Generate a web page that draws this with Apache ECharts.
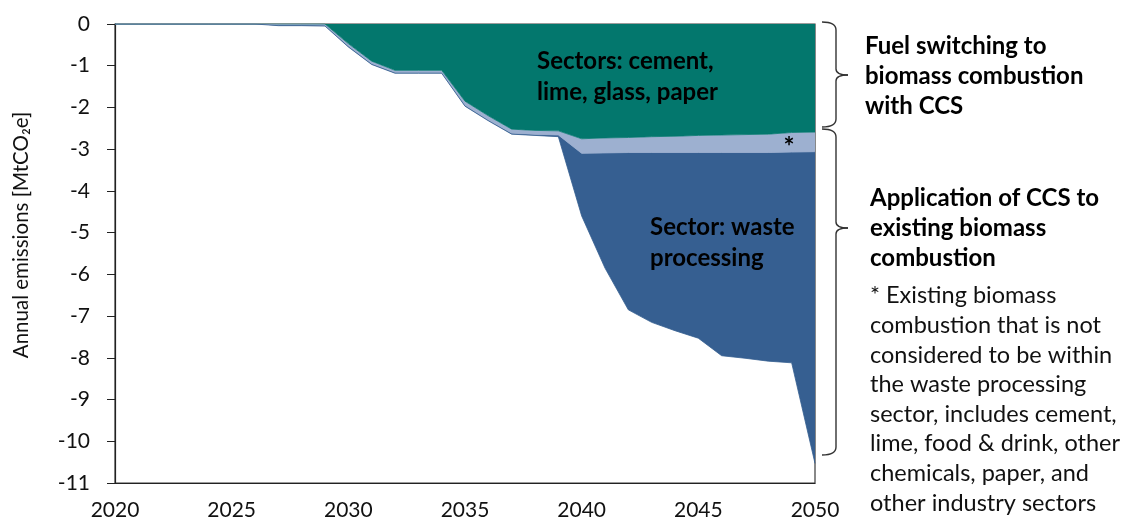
<!DOCTYPE html>
<html>
<head>
<meta charset="utf-8">
<script src="https://cdn.jsdelivr.net/npm/echarts@6/dist/echarts.min.js"></script>
<style>
html,body{margin:0;padding:0;background:#fff;}
#chart{width:1129px;height:527px;}
</style>
</head>
<body>
<div id="chart"></div>
<script>
// Data (MtCO2e, negative = removals)
const years = [2020,2021,2022,2023,2024,2025,2026,2027,2028,2029,2030,2031,2032,2033,2034,2035,2036,2037,2038,2039,2040,2041,2042,2043,2044,2045,2046,2047,2048,2049,2050];
// Fuel switching to biomass combustion with CCS (cement, lime, glass, paper)
const fuelSwitching = [0,0,0,0,0,0,0,0,0,0,-0.47,-0.89,-1.11,-1.11,-1.11,-1.85,-2.2,-2.52,-2.55,-2.56,-2.75,-2.73,-2.72,-2.7,-2.69,-2.67,-2.66,-2.65,-2.64,-2.6,-2.59];
// Existing biomass combustion outside waste processing (*)
const existingOther = [0,0,0,0,0,0,0,-0.02,-0.02,-0.03,-0.06,-0.06,-0.05,-0.05,-0.05,-0.1,-0.1,-0.1,-0.1,-0.1,-0.35,-0.36,-0.36,-0.38,-0.39,-0.41,-0.42,-0.43,-0.44,-0.47,-0.47];
// Waste processing sector
const wasteProcessing = [0,0,0,0,0,0,0,-0.02,-0.02,-0.02,-0.02,-0.02,-0.02,-0.02,-0.02,-0.02,-0.02,-0.02,-0.02,-0.04,-1.5,-2.76,-3.77,-4.07,-4.27,-4.45,-4.87,-4.93,-5.0,-5.05,-7.47];
const xTicks = [2020,2025,2030,2035,2040,2045,2050];
const yTicks = [0,-1,-2,-3,-4,-5,-6,-7,-8,-9,-10,-11];

const FONT = 'Lato, "Open Sans", sans-serif';

const braceStyle = {fill:'none', stroke:'#333', lineWidth:1.4};
function brace(top, mid, bot){
  const xe=822, xv=836, xp=848;
  const bz = (x1,y1,cx,cy,x2,y2) => ({type:'bezierCurve', z:100, shape:{x1:x1,y1:y1,cpx1:cx,cpy1:cy,x2:x2,y2:y2}, style:braceStyle, silent:true});
  const ln = (x1,y1,x2,y2) => ({type:'line', z:100, shape:{x1:x1,y1:y1,x2:x2,y2:y2}, style:braceStyle, silent:true});
  return [
    bz(xe,top, xv,top, xv,top+8),
    ln(xv,top+8, xv,mid-6),
    bz(xv,mid-6, xv,mid, xp,mid),
    bz(xp,mid, xv,mid, xv,mid+6),
    ln(xv,mid+6, xv,bot-8),
    bz(xv,bot-8, xv,bot, xe,bot)
  ];
}

const chart = echarts.init(document.getElementById('chart'), null, {renderer:'canvas'});
const mkSeries = (name, arr, color) => ({
  name, type:'line', stack:'total', data: arr, symbol:'none',
  lineStyle:{width:0.8, color: color}, areaStyle:{color: color, opacity:1},
  emphasis:{disabled:true}, silent:true
});
chart.setOption({
  animation:false,
  grid:{left:115, right:314, top:24, bottom:44, show:true, borderColor:'#3a3a3a', borderWidth:1.2, backgroundColor:'transparent'},
  xAxis:{
    type:'category', data: years.map(String), boundaryGap:false,
    axisLine:{show:true, onZero:false, lineStyle:{color:'#222', width:1.2}},
    axisTick:{show:false},
    splitLine:{show:false},
    axisLabel:{color:'#111', fontSize:21, fontFamily:FONT, margin:17, interval:0,
      formatter: v => xTicks.includes(Number(v)) ? v : ''}
  },
  yAxis:{
    type:'value', min:-11, max:0, interval:1,
    axisLine:{show:true, lineStyle:{color:'#222', width:1.2}},
    axisTick:{show:true, inside:false, length:8, lineStyle:{color:'#222'}},
    splitLine:{show:false},
    axisLabel:{color:'#111', fontSize:21, fontFamily:FONT, margin:25,
      formatter: v => yTicks.includes(v) ? String(v) : ''}
  },
  series:[
    mkSeries('Fuel switching', fuelSwitching, '#03776D'),
    mkSeries('Existing other', existingOther, '#9DB0D0'),
    mkSeries('Waste processing', wasteProcessing, '#365F91')
  ],
  graphic:[
    {type:'text', z:100, x:21, y:235, rotation:Math.PI/2, style:{text:'Annual emissions [MtCO₂e]', font:'20.5px '+FONT, fill:'#111', align:'center', verticalAlign:'middle'}},
    {type:'text', z:100, x:537, y:46, style:{text:'Sectors: cement,\nlime, glass, paper', font:'bold 24px '+FONT, fill:'#000', lineHeight:31, align:'left', verticalAlign:'top'}},
    {type:'text', z:100, x:650, y:212, style:{text:'Sector: waste\nprocessing', font:'bold 24px '+FONT, fill:'#000', lineHeight:31, align:'left', verticalAlign:'top'}},
    {type:'text', z:100, x:789, y:148, style:{text:'*', font:'bold 26px '+FONT, fill:'#000', align:'center', verticalAlign:'middle'}},
    ...brace(22,75,127),
    ...brace(129,228,455),
    {type:'text', z:100, x:865, y:31, style:{text:'Fuel switching to\nbiomass combustion\nwith CCS', font:'bold 24px '+FONT, fill:'#000', lineHeight:30, align:'left', verticalAlign:'top'}},
    {type:'text', z:100, x:870, y:183, style:{text:'Application of CCS to\nexisting biomass\ncombustion', font:'bold 24px '+FONT, fill:'#000', lineHeight:30, align:'left', verticalAlign:'top'}},
    {type:'text', z:100, x:870, y:281, style:{text:'* Existing biomass\ncombustion that is not\nconsidered to be within\nthe waste processing\nsector, includes cement,\nlime, food & drink, other\nchemicals, paper, and\nother industry sectors', font:'23.5px '+FONT, fill:'#111', lineHeight:29.6, align:'left', verticalAlign:'top'}}
  ]
});
</script>
</body>
</html>
